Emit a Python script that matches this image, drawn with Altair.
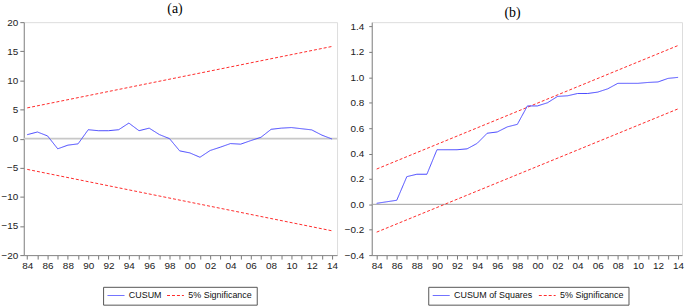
import altair as alt
import pandas as pd

# ---------------- data ----------------
years = list(range(1984, 2015))

cusum = [0.68, 1.14, 0.46, -1.75, -1.12, -0.90, 1.53, 1.36, 1.36, 1.53,
         2.67, 1.36, 1.80, 0.70, 0.00, -2.10, -2.45, -3.20, -2.04, -1.47,
         -0.85, -0.95, -0.34, 0.23, 1.60, 1.80, 1.90, 1.70, 1.50, 0.60, -0.07]

cusumsq = [0.008, 0.020, 0.032, 0.218, 0.237, 0.237, 0.430, 0.430, 0.430, 0.437,
           0.480, 0.560, 0.570, 0.610, 0.630, 0.775, 0.775, 0.800, 0.850, 0.855,
           0.873, 0.873, 0.884, 0.910, 0.953, 0.953, 0.953, 0.960, 0.964, 0.992, 1.000]

bound_years = [1984, 2014]
cusum_upper = [5.28, 15.83]
cusum_lower = [-5.28, -15.83]
sq_upper = [0.278, 1.251]
sq_lower = [-0.219, 0.752]

cusum_ticks = [-20, -15, -10, -5, 0, 5, 10, 15, 20]
sq_ticks = [-0.4, -0.2, 0.0, 0.2, 0.4, 0.6, 0.8, 1.0, 1.2, 1.4]

series_a = ["CUSUM", "5% Significance"]
series_b = ["CUSUM of Squares", "5% Significance"]
titles = ["(a)", "(b)"]

BLUE = "#4646ff"
RED = "#ff2b2b"
FONT = "Liberation Sans, Arial, sans-serif"
SERIF = "Liberation Serif, Times New Roman, serif"
FRAME = "#999999"
W_A, W_B, H = 316, 313, 235


def panel(title, main, names, upper, lower, yticks, ydom, xdom, w,
          title_dx, legend_x, ytick, ypad, zero_color, zero_width, fmt):
    line_df = pd.DataFrame({"year": years, "value": main, "series": names[0], "part": "main"})
    bound_df = pd.DataFrame({
        "year": bound_years + bound_years,
        "value": upper + lower,
        "series": names[1],
        "part": ["upper", "upper", "lower", "lower"],
    })
    zero_df = pd.DataFrame({"value": [0.0]})

    x = alt.X(
        "year:Q",
        title=None,
        scale=alt.Scale(domain=xdom, nice=False, zero=False),
        axis=alt.Axis(
            values=years,
            labelExpr="datum.value % 2 == 0 ? substring(toString(datum.value), 2) : ''",
            grid=False, tickSize=4, labelPadding=2, labelFlush=False,
            labelOverlap=False, domainColor="#888888", tickColor="#777777",
            labelColor="#222222", labelFont=FONT, labelFontSize=10,
        ),
    )
    y = alt.Y(
        "value:Q",
        title=None,
        scale=alt.Scale(domain=ydom, nice=False, zero=False),
        axis=alt.Axis(
            values=yticks, format=fmt, grid=False, tickSize=ytick,
            labelPadding=ypad, labelOverlap=False,
            labelFlush=False, labelBound=False,
            domainColor="#888888", tickColor="#777777", labelColor="#222222",
            labelFont=FONT, labelFontSize=10,
        ),
    )
    legend = alt.Legend(
        title=None, orient="none", legendX=legend_x, legendY=267,
        direction="horizontal", symbolType="stroke", symbolSize=289,
        symbolStrokeWidth=1, labelFont=FONT, labelFontSize=9,
        labelColor="#111111", labelOffset=4, columnPadding=5, padding=4,
        clipHeight=9, strokeColor="#555555", fillColor="white",
    )
    color = alt.Color("series:N", scale=alt.Scale(domain=names, range=[BLUE, RED]), legend=legend)
    dash = alt.StrokeDash("series:N", scale=alt.Scale(domain=names, range=[[1, 0], [3, 2]]), legend=legend)

    zero = alt.Chart(zero_df).mark_rule(color=zero_color, strokeWidth=zero_width).encode(y=y)
    bounds = alt.Chart(bound_df).mark_line(strokeWidth=1).encode(
        x=x, y=y, color=color, strokeDash=dash, detail="part:N")
    line = alt.Chart(line_df).mark_line(strokeWidth=1).encode(
        x=x, y=y, color=color, strokeDash=dash)

    return alt.layer(zero, bounds, line).properties(
        width=w, height=H,
        title=alt.TitleParams(title, font=SERIF, fontSize=14, fontWeight="normal",
                              color="black", anchor="middle", frame="group",
                              offset=1.5, dx=title_dx),
    )


left = panel(titles[0], cusum, series_a, cusum_upper, cusum_lower, cusum_ticks,
             [-20, 20], [1983.66, 2014.49], W_A, -5.5, 80,
             4, 2, "#c8c8c8", 2, "d")
right = panel(titles[1], cusumsq, series_b, sq_upper, sq_lower, sq_ticks,
              [-0.4, 1.435], [1983.51, 2014.39], W_B, -14.5, 57,
              3, 5, "#a0a0a0", 1, ".1f")

chart = alt.concat(left, right, columns=2, spacing=35).properties(
    bounds="flush",
    padding={"left": 0, "top": 0, "right": 0, "bottom": 0},
).resolve_scale(
    x="independent", y="independent", color="independent", strokeDash="independent"
).resolve_legend(
    color="independent", strokeDash="independent"
).configure_view(
    stroke=FRAME, strokeWidth=1
).configure(background="white")

chart.save("out.html", embed_options={"renderer": "svg", "actions": False})
